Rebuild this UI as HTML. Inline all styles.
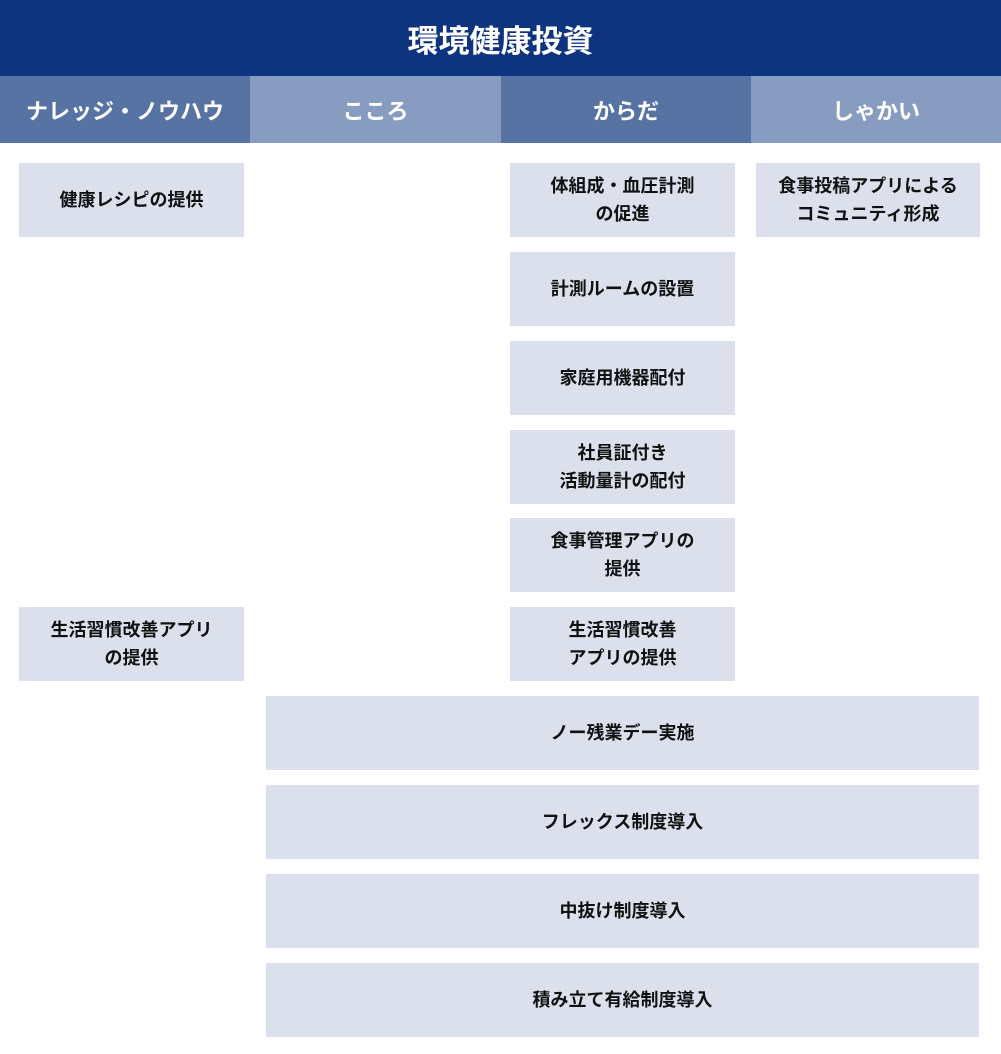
<!DOCTYPE html>
<html><head><meta charset="utf-8"><style>
*{margin:0;padding:0;box-sizing:border-box}
body{width:1001px;height:1054px;background:#fff;position:relative;font-family:"Liberation Sans","Noto Sans CJK JP",sans-serif;overflow:hidden}
.a{position:absolute;display:flex;align-items:center;justify-content:center;text-align:center}
.h{left:0;top:0;width:1001px;height:76px;background:#0f347f;color:#fff;font-size:31px;font-weight:bold}
.s{top:76px;height:67px;color:#fff;font-size:22px;font-weight:bold}
.d{background:#5673a3}.l{background:#889bc0}
.b{background:#dbe0ec;color:#111;font-size:18px;font-weight:bold;line-height:28px;height:74px}
.c1{left:19px;width:225px}.c3{left:510px;width:225px}.c4{left:756px;width:224px}.w{left:266px;width:713px}
</style></head><body>
<div class="a h">環境健康投資</div>
<div class="a s d" style="left:0;width:250px">ナレッジ・ノウハウ</div>
<div class="a s l" style="left:250px;width:251px">こころ</div>
<div class="a s d" style="left:501px;width:250px">からだ</div>
<div class="a s l" style="left:751px;width:250px">しゃかい</div>
<div class="a b c1" style="top:163px">健康レシピの提供</div>
<div class="a b c1" style="top:607px">生活習慣改善アプリ<br>の提供</div>
<div class="a b c3" style="top:163px">体組成・血圧計測<br>の促進</div>
<div class="a b c3" style="top:252px">計測ルームの設置</div>
<div class="a b c3" style="top:341px">家庭用機器配付</div>
<div class="a b c3" style="top:430px">社員証付き<br>活動量計の配付</div>
<div class="a b c3" style="top:518px">食事管理アプリの<br>提供</div>
<div class="a b c3" style="top:607px">生活習慣改善<br>アプリの提供</div>
<div class="a b c4" style="top:163px">食事投稿アプリによる<br>コミュニティ形成</div>
<div class="a b w" style="top:696px">ノー残業デー実施</div>
<div class="a b w" style="top:785px">フレックス制度導入</div>
<div class="a b w" style="top:874px">中抜け制度導入</div>
<div class="a b w" style="top:963px">積み立て有給制度導入</div>
</body></html>
